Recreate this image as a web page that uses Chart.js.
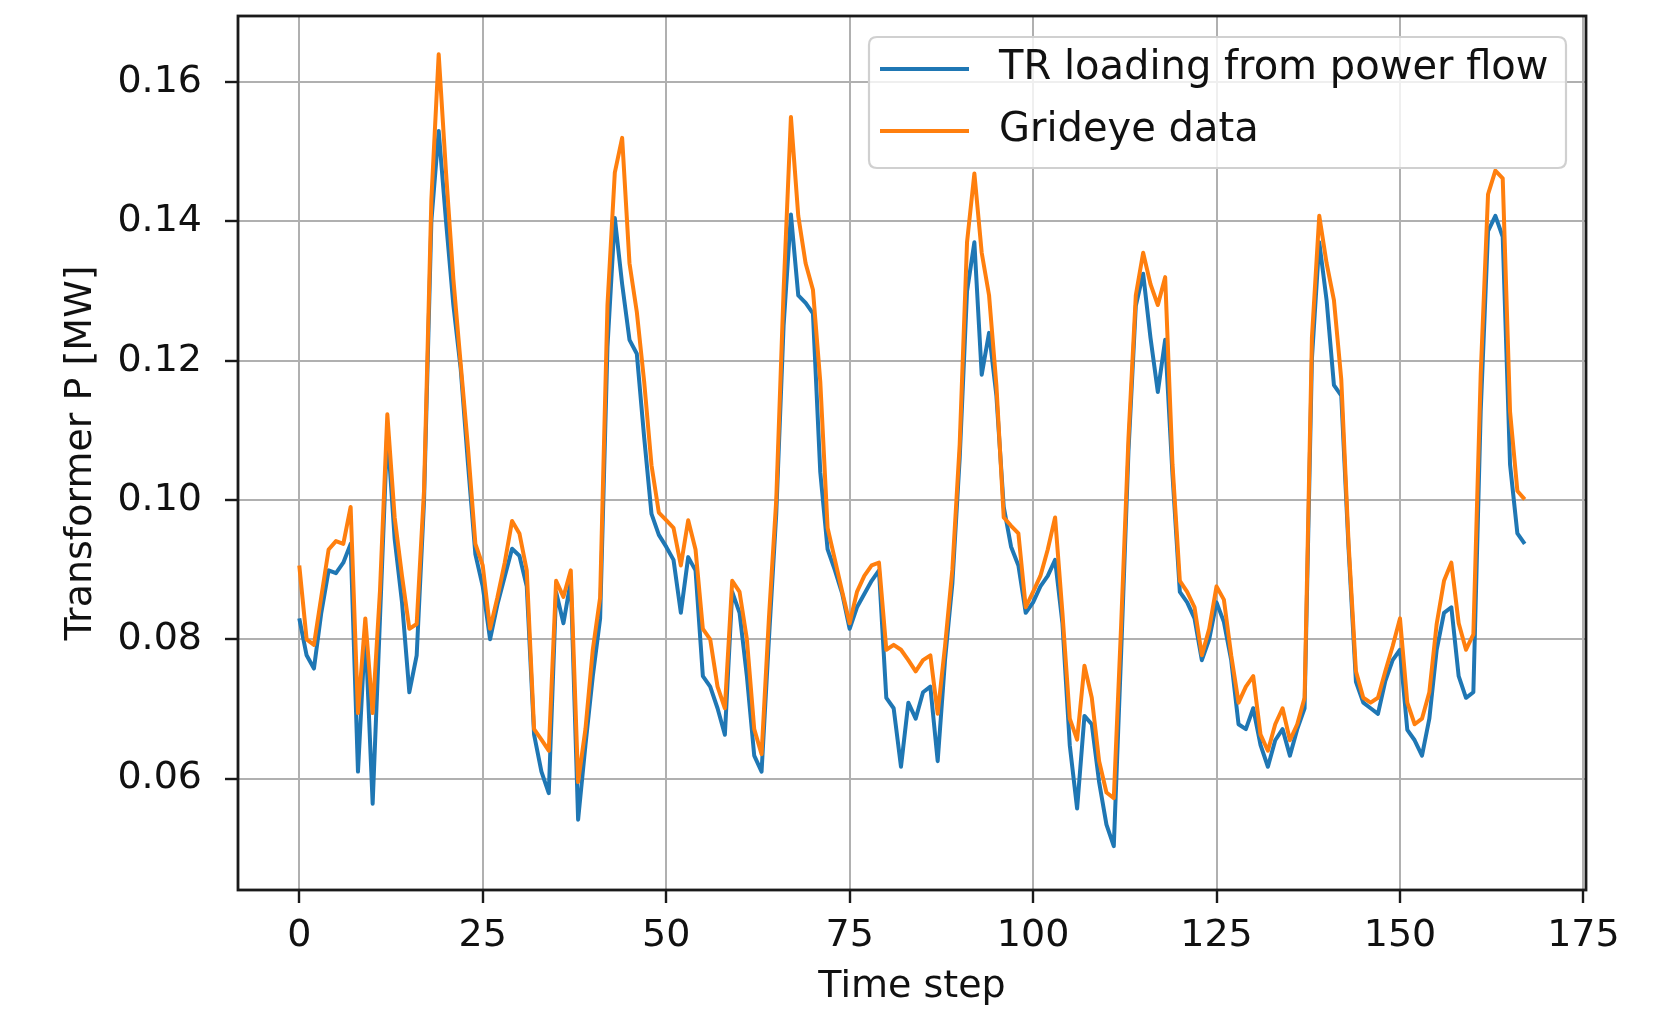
<!DOCTYPE html>
<html>
<head>
<meta charset="utf-8">
<script src="https://cdn.jsdelivr.net/npm/chart.js@4/dist/chart.umd.min.js"></script>
<style>
html,body{margin:0;padding:0;background:#ffffff;}
canvas{display:block;}
</style>
</head>
<body>
<canvas id="c" width="1666" height="1014"></canvas>
<script>
// ---- data ----
const seriesLabels = ['TR loading from power flow', 'Grideye data'];

const trLoading = [
 0.0830,0.0777,0.0758,0.0838,0.0899,0.0895,0.0910,0.0937,0.0610,0.0815,
 0.0564,0.0830,0.1100,0.0944,0.0853,0.0724,0.0777,0.0998,0.1400,0.1530,
 0.1400,0.1280,0.1188,0.1051,0.0922,0.0876,0.0800,0.0850,0.0890,0.0930,
 0.0920,0.0876,0.0663,0.0610,0.0579,0.0868,0.0823,0.0884,0.0541,0.0648,
 0.0747,0.0830,0.1220,0.1405,0.1310,0.1230,0.1210,0.1090,0.0980,0.0950,
 0.0933,0.0914,0.0838,0.0918,0.0899,0.0747,0.0732,0.0701,0.0663,0.0868,
 0.0838,0.0747,0.0633,0.0610,0.0800,0.0980,0.1250,0.1410,0.1294,0.1283,
 0.1268,0.1040,0.0929,0.0899,0.0865,0.0815,0.0846,0.0865,0.0884,0.0899,
 0.0716,0.0701,0.0617,0.0709,0.0686,0.0724,0.0732,0.0625,0.0770,0.0880,
 0.1060,0.1300,0.1370,0.1180,0.1240,0.1150,0.0990,0.0933,0.0906,0.0838,
 0.0853,0.0876,0.0891,0.0914,0.0823,0.0648,0.0557,0.0690,0.0678,0.0595,
 0.0534,0.0503,0.0780,0.1070,0.1279,0.1325,0.1233,0.1155,0.1230,0.1036,
 0.0868,0.0853,0.0830,0.0770,0.0800,0.0853,0.0825,0.0770,0.0678,0.0671,
 0.0701,0.0648,0.0617,0.0655,0.0671,0.0633,0.0671,0.0701,0.1203,0.1370,
 0.1287,0.1165,0.1150,0.0929,0.0739,0.0709,0.0701,0.0693,0.0740,0.0770,
 0.0785,0.0670,0.0655,0.0633,0.0686,0.0785,0.0838,0.0846,0.0747,0.0716,
 0.0724,0.1127,0.1386,0.1408,0.1378,0.1051,0.0952,0.0937
];

const gridEye = [
 0.0906,0.0800,0.0792,0.0861,0.0929,0.0941,0.0937,0.0990,0.0694,0.0830,
 0.0694,0.0870,0.1123,0.0975,0.0891,0.0815,0.0822,0.1013,0.1431,0.1640,
 0.1470,0.1317,0.1195,0.1074,0.0937,0.0906,0.0815,0.0860,0.0910,0.0970,
 0.0952,0.0899,0.0671,0.0656,0.0640,0.0884,0.0861,0.0899,0.0595,0.0671,
 0.0785,0.0860,0.1280,0.1470,0.1520,0.1340,0.1270,0.1170,0.1050,0.0982,
 0.0971,0.0960,0.0906,0.0971,0.0929,0.0815,0.0800,0.0732,0.0701,0.0884,
 0.0868,0.0800,0.0671,0.0635,0.0830,0.1000,0.1300,0.1550,0.1408,0.1340,
 0.1302,0.1170,0.0960,0.0914,0.0868,0.0823,0.0868,0.0891,0.0906,0.0910,
 0.0785,0.0792,0.0785,0.0770,0.0754,0.0770,0.0777,0.0693,0.0790,0.0900,
 0.1080,0.1370,0.1469,0.1355,0.1294,0.1165,0.0975,0.0963,0.0952,0.0846,
 0.0868,0.0891,0.0929,0.0975,0.0838,0.0686,0.0656,0.0762,0.0716,0.0625,
 0.0580,0.0572,0.0820,0.1089,0.1294,0.1355,0.1310,0.1280,0.1320,0.1051,
 0.0884,0.0868,0.0846,0.0777,0.0815,0.0876,0.0857,0.0777,0.0709,0.0732,
 0.0747,0.0663,0.0640,0.0678,0.0701,0.0655,0.0678,0.0716,0.1233,0.1408,
 0.1340,0.1287,0.1173,0.0937,0.0754,0.0716,0.0709,0.0716,0.0754,0.0790,
 0.0830,0.0709,0.0678,0.0686,0.0724,0.0822,0.0884,0.0910,0.0823,0.0785,
 0.0807,0.1180,0.1439,0.1473,0.1462,0.1127,0.1013,0.1001
];

const xTicks = [0, 25, 50, 75, 100, 125, 150, 175];
const yTicks = [0.06, 0.08, 0.10, 0.12, 0.14, 0.16];
const xLimits = [-8.35, 175.35];
const yLimits = [0.0440, 0.1695];
const xTitle = 'Time step';
const yTitle = 'Transformer P [MW]';

// time step index for each sample
const timeSteps = trLoading.map((_, i) => i);

// ---- styling ----
const FONT = 'DejaVu Sans';
const FS = 38;
const LEGEND_FS = 40;
const BLUE = '#1f77b4';
const ORANGE = '#ff7f0e';
const LW = 4;

const framePlugin = {
  id: 'frameAndLegend',
  beforeDraw(chart) {
    const ctx = chart.ctx;
    ctx.save();
    ctx.fillStyle = '#ffffff';
    ctx.fillRect(0, 0, chart.width, chart.height);
    ctx.restore();
  },
  afterDatasetsDraw(chart) {
    const {ctx, chartArea: a} = chart;
    ctx.save();
    ctx.strokeStyle = '#1a1a1a';
    ctx.lineWidth = 2.8;
    ctx.strokeRect(a.left, a.top, a.right - a.left, a.bottom - a.top);
    ctx.restore();
  },
  afterDraw(chart) {
    const {ctx, chartArea: a} = chart;
    const boxRight = a.right - 20;
    const boxLeft = boxRight - 697;
    const boxTop = a.top + 21;
    const boxH = 131;
    ctx.save();
    ctx.beginPath();
    const r = 8;
    ctx.moveTo(boxLeft + r, boxTop);
    ctx.lineTo(boxRight - r, boxTop);
    ctx.quadraticCurveTo(boxRight, boxTop, boxRight, boxTop + r);
    ctx.lineTo(boxRight, boxTop + boxH - r);
    ctx.quadraticCurveTo(boxRight, boxTop + boxH, boxRight - r, boxTop + boxH);
    ctx.lineTo(boxLeft + r, boxTop + boxH);
    ctx.quadraticCurveTo(boxLeft, boxTop + boxH, boxLeft, boxTop + boxH - r);
    ctx.lineTo(boxLeft, boxTop + r);
    ctx.quadraticCurveTo(boxLeft, boxTop, boxLeft + r, boxTop);
    ctx.closePath();
    ctx.fillStyle = 'rgba(255,255,255,0.8)';
    ctx.fill();
    ctx.strokeStyle = '#d0d0d0';
    ctx.lineWidth = 2.2;
    ctx.stroke();

    const rows = [boxTop + 32, boxTop + 94];
    chart.data.datasets.forEach((ds, i) => {
      const y = rows[i];
      ctx.beginPath();
      ctx.strokeStyle = ds.borderColor;
      ctx.lineWidth = ds.borderWidth;
      ctx.moveTo(boxLeft + 11, y);
      ctx.lineTo(boxLeft + 100, y);
      ctx.stroke();
      ctx.fillStyle = '#111111';
      ctx.font = LEGEND_FS + 'px "' + FONT + '"';
      ctx.textAlign = 'left';
      ctx.textBaseline = 'middle';
      ctx.fillText(ds.label, boxLeft + 130, y);
    });
    ctx.restore();
  }
};

new Chart(document.getElementById('c'), {
  type: 'line',
  data: {
    labels: timeSteps,
    datasets: [
      {
        label: seriesLabels[0],
        data: trLoading,
        borderColor: BLUE,
        backgroundColor: BLUE,
        borderWidth: LW,
        pointRadius: 0,
        tension: 0,
        fill: false,
        borderJoinStyle: 'round',
        order: 2
      },
      {
        label: seriesLabels[1],
        data: gridEye,
        borderColor: ORANGE,
        backgroundColor: ORANGE,
        borderWidth: LW,
        pointRadius: 0,
        tension: 0,
        fill: false,
        borderJoinStyle: 'round',
        order: 1
      }
    ]
  },
  options: {
    responsive: false,
    animation: false,
    devicePixelRatio: 1,
    layout: { autoPadding: false, padding: { left: 0, top: 16, right: 80, bottom: 0 } },
    plugins: {
      legend: { display: false },
      tooltip: { enabled: false },
      title: { display: false }
    },
    scales: {
      x: {
        type: 'linear',
        position: 'bottom',
        min: xLimits[0],
        max: xLimits[1],
        afterBuildTicks(scale) { scale.ticks = xTicks.map(v => ({ value: v })); },
        afterFit(scale) {
          scale.height = 124;
          scale.paddingLeft = 0; scale.paddingRight = 0;
          scale.paddingTop = 0; scale.paddingBottom = 0;
        },
        grid: {
          display: true,
          color: '#b0b0b0',
          lineWidth: 2,
          drawTicks: true,
          tickLength: 13,
          tickColor: '#1a1a1a',
          tickWidth: 2.4
        },
        border: { display: false },
        ticks: {
          autoSkip: false,
          maxRotation: 0,
          padding: 10,
          color: '#111111',
          font: { family: FONT, size: FS },
          callback: (v) => String(v)
        },
        title: {
          display: true,
          text: xTitle,
          color: '#111111',
          font: { family: FONT, size: FS },
          padding: { top: 0, bottom: 4 }
        }
      },
      y: {
        type: 'linear',
        position: 'left',
        min: yLimits[0],
        max: yLimits[1],
        afterBuildTicks(scale) { scale.ticks = yTicks.map(v => ({ value: v })); },
        afterFit(scale) {
          scale.width = 238;
          scale.paddingTop = 0; scale.paddingBottom = 0;
          scale.paddingLeft = 0; scale.paddingRight = 0;
        },
        grid: {
          display: true,
          color: '#b0b0b0',
          lineWidth: 2,
          drawTicks: true,
          tickLength: 13,
          tickColor: '#1a1a1a',
          tickWidth: 2.4
        },
        border: { display: false },
        ticks: {
          autoSkip: false,
          padding: 23,
          color: '#111111',
          font: { family: FONT, size: FS },
          callback: (v) => Number(v).toFixed(2)
        },
        title: {
          display: true,
          text: yTitle,
          color: '#111111',
          font: { family: FONT, size: FS },
          padding: { top: 58, bottom: 0 }
        }
      }
    }
  },
  plugins: [framePlugin]
});
</script>
</body>
</html>
